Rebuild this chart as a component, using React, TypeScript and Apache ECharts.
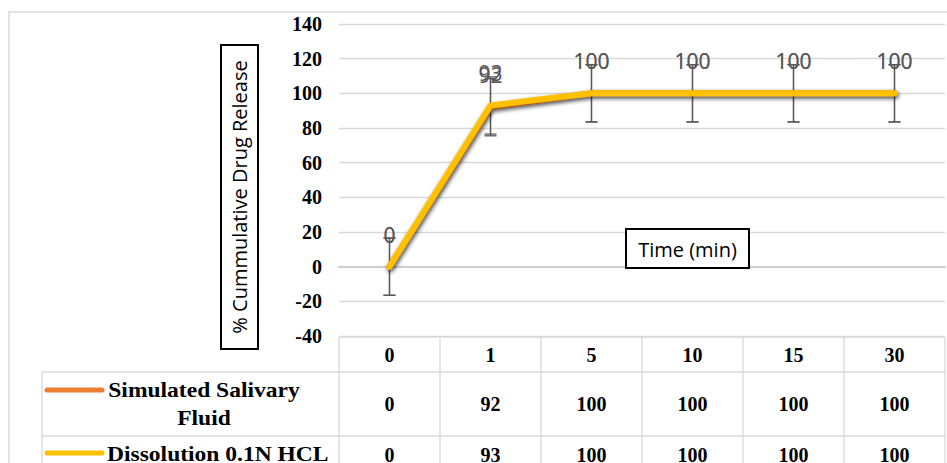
import React, { useEffect, useRef } from "react";
import * as echarts from "echarts";

// ---- data ----
const categories = ["0", "1", "5", "10", "15", "30"];
const seriesNames = ["Simulated Salivary Fluid", "Dissolution 0.1N HCL"];
const tableNames = ["Simulated Salivary\nFluid", "Dissolution 0.1N HCL"];
const salivary = [0, 92, 100, 100, 100, 100];
const hcl = [0, 93, 100, 100, 100, 100];
const errSalivary = [16.5, 16.5, 16.5, 16.5, 16.5, 16.5];
const errHcl = [16.5, 16.5, 16.5, 16.5, 16.5, 16.5];
const yMin = -40;
const yMax = 140;
const yStep = 20;
const colors = ["#ED7D31", "#FFC000"];
const yAxisTitle = "% Cummulative Drug Release";
const xAxisTitle = "Time (min)";

// ---- layout ----
const W = 947;
const H = 463;
const gridLeft = 339;
const gridRight = 945;
const gridTop = 24;
const gridBottom = 336;
const legendLeft = 42;
const rowEdges = [337, 372, 436, 474];

const serif = "'Liberation Serif', 'Times New Roman', serif";
const sans = "'Open Sans', 'Noto Sans', sans-serif";

function errorSeries(vals: number[], errs: number[], z: number) {
  return {
    type: "custom",
    z,
    silent: true,
    encode: { x: 0, y: 1 },
    data: vals.map((v, i) => [i, v, errs[i]]),
    renderItem: (_p: any, api: any) => {
      const idx = api.value(0);
      const v = api.value(1);
      const e = api.value(2);
      const top = api.coord([idx, v + e]);
      const bot = api.coord([idx, v - e]);
      const half = 6;
      const st = { stroke: "#595959", lineWidth: 1.3 };
      return {
        type: "group",
        children: [
          { type: "line", shape: { x1: top[0], y1: top[1], x2: bot[0], y2: bot[1] }, style: st },
          { type: "line", shape: { x1: top[0] - half, y1: top[1], x2: top[0] + half, y2: top[1] }, style: st },
          { type: "line", shape: { x1: bot[0] - half, y1: bot[1], x2: bot[0] + half, y2: bot[1] }, style: st },
        ],
      };
    },
  };
}

function buildTable(): any[] {
  const els: any[] = [];
  const lineStyle = { stroke: "#d9d9d9", lineWidth: 1.3 };
  const n = categories.length;
  const colW = (gridRight - gridLeft) / n;
  els.push({ type: "line", shape: { x1: gridLeft, y1: rowEdges[0], x2: gridRight, y2: rowEdges[0] }, style: lineStyle });
  for (let r = 1; r < rowEdges.length; r++) {
    els.push({ type: "line", shape: { x1: legendLeft, y1: rowEdges[r], x2: gridRight, y2: rowEdges[r] }, style: lineStyle });
  }
  for (let c = 0; c <= n; c++) {
    const x = gridLeft + c * colW;
    els.push({ type: "line", shape: { x1: x, y1: rowEdges[0], x2: x, y2: rowEdges[3] }, style: lineStyle });
  }
  els.push({ type: "line", shape: { x1: legendLeft, y1: rowEdges[1], x2: legendLeft, y2: rowEdges[3] }, style: lineStyle });

  const cellFont = { fontFamily: serif, fontWeight: "bold", fontSize: 20, fill: "#000", align: "center", verticalAlign: "middle" };
  categories.forEach((c, i) => {
    els.push({ type: "text", x: gridLeft + (i + 0.5) * colW, y: (rowEdges[0] + rowEdges[1]) / 2, style: { ...cellFont, text: c } });
  });
  const rows = [salivary, hcl];
  const rowCenters = [404, 455];
  rows.forEach((vals, r) => {
    vals.forEach((v, i) => {
      els.push({ type: "text", x: gridLeft + (i + 0.5) * colW, y: rowCenters[r], style: { ...cellFont, text: String(v) } });
    });
  });
  const keyY = [390, 453];
  tableNames.forEach((_name, r) => {
    els.push({
      type: "line",
      shape: { x1: 47, y1: keyY[r], x2: 102, y2: keyY[r] },
      style: { stroke: colors[r], lineWidth: 5, lineCap: "round" },
    });
  });
  els.push({
    type: "text",
    x: 204,
    y: 404,
    scaleX: 1.07,
    style: { ...cellFont, fontSize: 22, text: tableNames[0], lineHeight: 28 },
  });
  els.push({
    type: "text",
    x: 107,
    y: 454,
    scaleX: 1.07,
    style: { ...cellFont, fontSize: 22, align: "left", text: tableNames[1] },
  });
  return els;
}

export default function App() {
  const ref = useRef<HTMLDivElement>(null);
  useEffect(() => {
    if (!ref.current) return;
    const chart = echarts.init(ref.current, undefined, { renderer: "svg" });
    const lineSeries = [salivary, hcl].map((vals, i) => ({
      name: seriesNames[i],
      type: "line",
      z: 3 + i,
      data: vals,
      symbol: "circle",
      showSymbol: true,
      symbolSize: 3,
      lineStyle: {
        color: colors[i],
        width: 6,
        cap: "round",
        join: "round",
        shadowColor: "rgba(0,0,0,0.45)",
        shadowBlur: 4,
        shadowOffsetX: 1,
        shadowOffsetY: 2,
      },
      itemStyle: { color: colors[i] },
      label: {
        show: true,
        position: "top",
        distance: 20,
        fontFamily: sans,
        fontSize: 21,
        color: "#595959",
        opacity: 1,
      },
      labelLayout: { hideOverlap: false },
    }));
    chart.setOption({
      animation: false,
      backgroundColor: "#fff",
      grid: { left: gridLeft, top: gridTop, width: gridRight - gridLeft, height: gridBottom - gridTop, containLabel: false },
      xAxis: {
        type: "category",
        data: categories,
        boundaryGap: true,
        axisLine: { show: true, onZero: true, lineStyle: { color: "#d0d0d0", width: 2 } },
        axisTick: { show: false },
        axisLabel: { show: false },
        splitLine: { show: false },
      },
      yAxis: {
        type: "value",
        min: yMin,
        max: yMax,
        interval: yStep,
        axisLine: { show: false },
        axisTick: { show: false },
        splitLine: { lineStyle: { color: "#d9d9d9", width: 1.3 } },
        axisLabel: { fontFamily: serif, fontWeight: "bold", fontSize: 20, color: "#000", margin: 17 },
      },
      series: [errorSeries(salivary, errSalivary, 1), errorSeries(hcl, errHcl, 2), ...lineSeries],
      graphic: [
        {
          type: "rect",
          z: -10,
          shape: { x: 9, y: 12, width: 1000, height: 500 },
          style: { fill: "none", stroke: "#d9d9d9", lineWidth: 1.5 },
        },
        {
          type: "rect",
          z: 10,
          shape: { x: 221, y: 45, width: 37, height: 304 },
          style: { fill: "#fff", stroke: "#000", lineWidth: 2 },
        },
        {
          type: "text",
          z: 11,
          x: 239.5,
          y: 197,
          rotation: Math.PI / 2,
          style: { text: yAxisTitle, fontFamily: sans, fontSize: 20, fill: "#000", align: "center", verticalAlign: "middle" },
        },
        {
          type: "rect",
          z: 10,
          shape: { x: 626, y: 229, width: 123, height: 39 },
          style: { fill: "#fff", stroke: "#000", lineWidth: 2 },
        },
        {
          type: "text",
          z: 11,
          x: 687.5,
          y: 249,
          style: { text: xAxisTitle, fontFamily: sans, fontSize: 20, fill: "#000", align: "center", verticalAlign: "middle" },
        },
        ...buildTable(),
      ],
    });
    return () => chart.dispose();
  }, []);
  return <div ref={ref} style={{ position: "fixed", left: 0, top: 0, width: W, height: H }} />;
}
